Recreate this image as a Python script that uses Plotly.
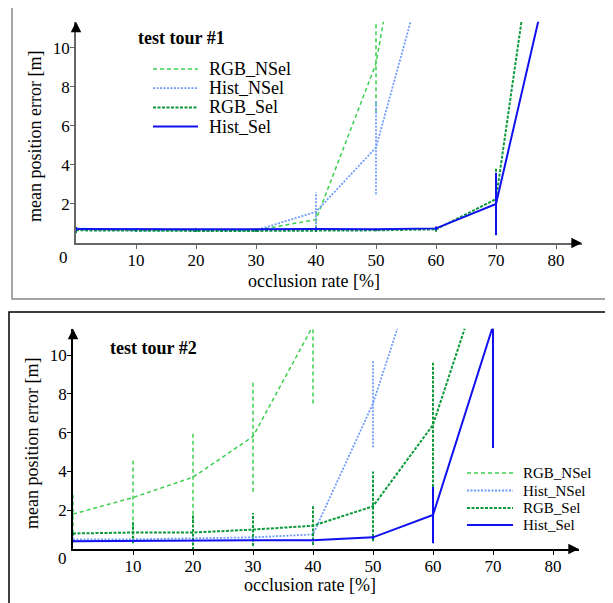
import plotly.graph_objects as go

W, H = 613, 603
OFF = 8  # the page body keeps a default 8px margin around the figure
FONT = "Liberation Serif"

# ---- data ----
series_names = ["RGB_NSel", "Hist_NSel", "RGB_Sel", "Hist_Sel"]

# test tour #1
t1_x = [0, 10, 20, 30, 40, 50, 60, 70, 80]
t1_rgb_nsel = [0.75, 0.65, 0.65, 0.65, 1.2, 9.2, 26.7]
t1_rgb_nsel_err = [0.1, 0.08, 0.08, 0.08, 0.5, 2.5, 0]
t1_hist_nsel = [0.7, 0.65, 0.65, 0.65, 1.6, 4.9, 16.1]
t1_hist_nsel_err = [0.1, 0.05, 0.05, 0.05, 1.0, 2.4, 0]
t1_rgb_sel = [0.65, 0.62, 0.62, 0.62, 0.62, 0.65, 0.7, 2.25, 23.7]
t1_rgb_sel_err = [0.15, 0.05, 0.05, 0.05, 0.05, 0.05, 0.12, 1.6, 0]
t1_hist_sel = [0.72, 0.7, 0.7, 0.7, 0.72, 0.7, 0.75, 2.0, 15.3]
t1_hist_sel_err = [0.1, 0.05, 0.05, 0.05, 0.08, 0.05, 0.1, 1.6, 0]

# test tour #2
t2_x = [0, 10, 20, 30, 40, 50, 60, 70]
t2_rgb_nsel = [1.8, 2.65, 3.7, 5.8, 11.5]
t2_rgb_nsel_err = [1.0, 1.9, 2.3, 2.85, 4.0]
t2_hist_nsel = [0.5, 0.5, 0.55, 0.6, 0.75, 7.5, 17.0]
t2_hist_nsel_err = [0.1, 0.1, 0.1, 0.1, 0.1, 2.25, 0]
t2_rgb_sel = [0.8, 0.85, 0.85, 1.0, 1.2, 2.2, 6.4, 15.8]
t2_rgb_sel_err = [0.1, 0.55, 0.9, 0.85, 1.0, 1.8, 3.2, 0]
t2_hist_sel = [0.4, 0.42, 0.45, 0.45, 0.45, 0.6, 1.75, 11.5]
t2_hist_sel_err = [0.05, 0.05, 0.05, 0.05, 0.05, 0.08, 1.45, 6.3]

x_ticks = [10, 20, 30, 40, 50, 60, 70, 80]
y_ticks = [2, 4, 6, 8, 10]

styles = {
    "RGB_NSel": dict(color="#3ccf4e", width=1.5, dash="4px,3px"),
    "Hist_NSel": dict(color="#6f9cff", width=1.8, dash="2px,1.5px"),
    "RGB_Sel": dict(color="#0a9a3a", width=2, dash="3px,1.5px"),
    "Hist_Sel": dict(color="#1010f0", width=2, dash="solid"),
}


def px_x(p):
    return (p - OFF) / (W - OFF)


def px_y(p):
    return 1 - (p - OFF) / (H - OFF)


X_MAX, Y_MAX = 84.3, 11.35
# panel geometry: axis origin in px and px per unit
panels = [
    dict(ox=76, oy=243, sx=6.0, sy=19.5, axc="#666666", box="#888888",
         box_px=(12, 6, 607, 299), label="test tour #1", label_px=(136, 38),
         xt_px=(314, 281), yt_px=(35, 137), zero_px=(63, 257),
         leg_px=(153, 198, 207, [69, 88.2, 107.4, 126.6]), leg_size=18),
    dict(ox=73, oy=549, sx=6.0, sy=19.4, axc="#000000", box="#000000",
         box_px=(9, 312, 607, 606), label="test tour #2", label_px=(108, 348),
         xt_px=(310, 585), yt_px=(32, 444), zero_px=(62, 558),
         leg_px=(467, 513, 521, [473, 490.5, 508, 525]), leg_size=15),
]

tour_data = [
    (t1_x, [(t1_rgb_nsel, t1_rgb_nsel_err), (t1_hist_nsel, t1_hist_nsel_err),
            (t1_rgb_sel, t1_rgb_sel_err), (t1_hist_sel, t1_hist_sel_err)]),
    (t2_x, [(t2_rgb_nsel, t2_rgb_nsel_err), (t2_hist_nsel, t2_hist_nsel_err),
            (t2_rgb_sel, t2_rgb_sel_err), (t2_hist_sel, t2_hist_sel_err)]),
]

fig = go.Figure()
shapes = []
annotations = []

for i, (p, (xs, series)) in enumerate(zip(panels, tour_data)):
    suffix = "" if i == 0 else str(i + 1)
    xref, yref = "x" + suffix, "y" + suffix

    for name, (ys, errs) in zip(series_names, series):
        st = styles[name]
        line = dict(color=st["color"], width=st["width"], dash=st["dash"])
        fig.add_trace(go.Scatter(x=xs[:len(ys)], y=ys, mode="lines", line=line,
                                 name=name, showlegend=False, xaxis=xref, yaxis=yref,
                                 hoverinfo="skip"))
        # vertical error bars, drawn in the series' own line style
        ex, ey = [], []
        for xv, yv, ev in zip(xs, ys, errs):
            if ev > 0:
                ex += [xv, xv, None]
                ey += [yv - ev, yv + ev, None]
        fig.add_trace(go.Scatter(x=ex, y=ey, mode="lines", line=line,
                                 showlegend=False, xaxis=xref, yaxis=yref,
                                 hoverinfo="skip"))

    xdom = [px_x(p["ox"]), px_x(p["ox"] + X_MAX * p["sx"])]
    ydom = [px_y(p["oy"]), px_y(p["oy"] - Y_MAX * p["sy"])]
    axis_common = dict(showgrid=False, zeroline=False, showline=True,
                       linecolor=p["axc"], linewidth=1.5, ticks="outside",
                       ticklen=4, tickcolor=p["axc"], tickwidth=1,
                       ticklabelstandoff=-3,
                       tickfont=dict(family=FONT, size=17, color="black"))
    fig.layout["xaxis" + suffix] = dict(axis_common, domain=xdom, range=[0, X_MAX],
                                        anchor=yref, tickvals=x_ticks,
                                        ticktext=[str(v) for v in x_ticks])
    fig.layout["yaxis" + suffix] = dict(axis_common, domain=ydom, range=[0, Y_MAX],
                                        anchor=xref, tickvals=y_ticks,
                                        ticktext=[str(v) for v in y_ticks])

    # axis arrows
    annotations.append(dict(xref=xref + " domain", yref=yref + " domain", x=1, y=0,
                            ax=-10, ay=0, text="", showarrow=True, arrowhead=2,
                            arrowsize=1.4, arrowwidth=1.5, arrowcolor="black"))
    annotations.append(dict(xref=xref + " domain", yref=yref + " domain", x=0, y=1,
                            ax=0, ay=10, text="", showarrow=True, arrowhead=2,
                            arrowsize=1.4, arrowwidth=1.5, arrowcolor="black"))

    # panel frame
    bx0, by0, bx1, by1 = p["box_px"]
    shapes.append(dict(type="rect", xref="paper", yref="paper",
                       x0=px_x(bx0), x1=px_x(bx1), y0=px_y(by1), y1=px_y(by0),
                       line=dict(color=p["box"], width=1.5), layer="below"))

    txt = dict(family=FONT, size=18, color="black")
    annotations.append(dict(xref="paper", yref="paper", x=px_x(p["label_px"][0]),
                            y=px_y(p["label_px"][1]), xanchor="left", yanchor="middle",
                            text="<b>%s</b>" % p["label"], showarrow=False, font=txt))
    annotations.append(dict(xref="paper", yref="paper", x=px_x(p["xt_px"][0]),
                            y=px_y(p["xt_px"][1]), xanchor="center", yanchor="middle",
                            text="occlusion rate [%]", showarrow=False, font=txt))
    annotations.append(dict(xref="paper", yref="paper", x=px_x(p["yt_px"][0]),
                            y=px_y(p["yt_px"][1]), xanchor="center", yanchor="middle",
                            text="mean position error [m]", textangle=-90,
                            showarrow=False, font=txt))
    annotations.append(dict(xref="paper", yref="paper", x=px_x(p["zero_px"][0]),
                            y=px_y(p["zero_px"][1]), xanchor="center", yanchor="middle",
                            text="0", showarrow=False,
                            font=dict(family=FONT, size=17, color="black")))

    # legend (drawn by hand to match the compact layout of the original)
    lx0, lx1, tx, rows = p["leg_px"]
    leg_font = dict(family=FONT, size=p["leg_size"], color="black")
    for name, ry in zip(series_names, rows):
        st = styles[name]
        shapes.append(dict(type="line", xref="paper", yref="paper",
                           x0=px_x(lx0), x1=px_x(lx1), y0=px_y(ry), y1=px_y(ry),
                           line=dict(color=st["color"], width=st["width"], dash=st["dash"])))
        annotations.append(dict(xref="paper", yref="paper", x=px_x(tx), y=px_y(ry),
                                xanchor="left", yanchor="middle", text=name,
                                showarrow=False, font=leg_font))

fig.update_layout(
    width=W - OFF, height=H - OFF,
    margin=dict(l=0, r=0, t=0, b=0),
    paper_bgcolor="white", plot_bgcolor="rgba(0,0,0,0)",
    showlegend=False,
    shapes=shapes, annotations=annotations,
    font=dict(family=FONT),
)

fig.write_html("out.html")
